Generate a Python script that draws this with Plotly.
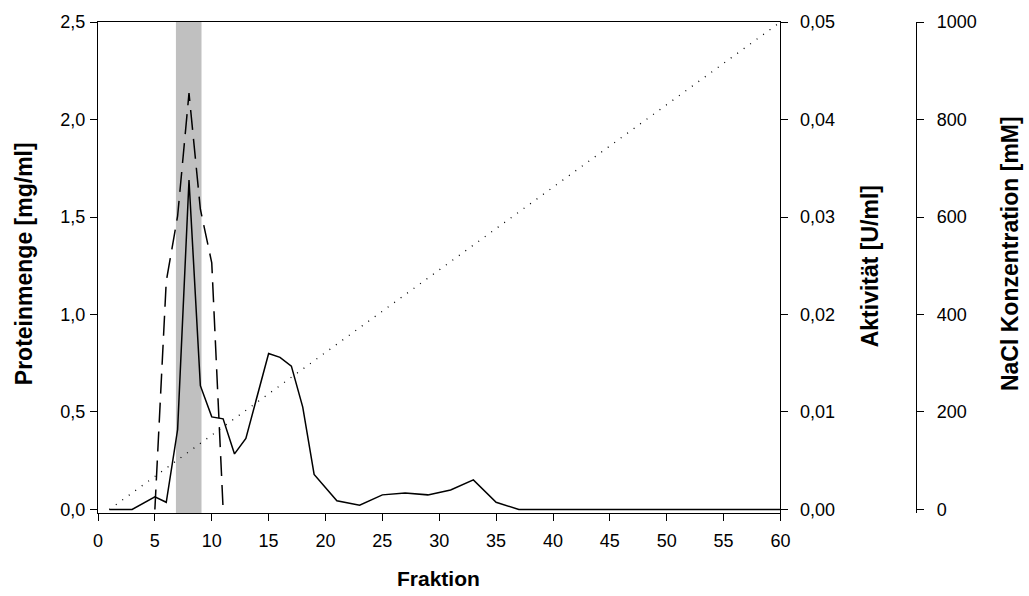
import plotly.graph_objects as go

# Protein content of the eluted fractions [mg/ml]
protein_fraction = [1, 3, 5, 6, 7, 8, 9, 10, 11, 12, 13, 15, 16, 17, 18, 19,
                    21, 23, 25, 27, 29, 31, 33, 35, 37, 40, 45, 50, 55, 60]
protein_mg_ml = [0.0, 0.0, 0.065, 0.037, 0.41, 1.69, 0.635, 0.475, 0.465, 0.285,
                 0.365, 0.80, 0.78, 0.735, 0.525, 0.18, 0.045, 0.022, 0.075,
                 0.085, 0.075, 0.10, 0.152, 0.037, 0.0, 0.0, 0.0, 0.0, 0.0, 0.0]

# Enzyme activity [U/ml]
activity_fraction = [5, 6, 7, 8, 9, 10, 11]
activity_u_ml = [0.0, 0.0234, 0.0301, 0.0427, 0.0308, 0.0253, 0.0]

# NaCl gradient [mM]
nacl_fraction = [1, 60]
nacl_mM = [0, 1000]

# Pooled fractions
pool_start, pool_end = 6.85, 9.1

# Tick labels (German decimal comma)
x_ticks = list(range(0, 61, 5))
protein_ticks = [0.0, 0.5, 1.0, 1.5, 2.0, 2.5]
protein_tick_text = ["0,0", "0,5", "1,0", "1,5", "2,0", "2,5"]
activity_ticks = [0.0, 0.01, 0.02, 0.03, 0.04, 0.05]
activity_tick_text = ["0,00", "0,01", "0,02", "0,03", "0,04", "0,05"]
nacl_ticks = [0, 200, 400, 600, 800, 1000]
nacl_tick_text = ["0", "200", "400", "600", "800", "1000"]

W, H = 1029, 596
ML, MR, MT, MB = 98, 20, 20, 83
PW = W - ML - MR
PH = H - MT - MB


def px_x(px):
    return (px - ML) / PW


def px_y(py):
    return (H - MB - py) / PH


FONT = "Liberation Sans, Arial, sans-serif"
TICK_FONT = dict(family=FONT, size=18, color="black")

fig = go.Figure()

fig.add_trace(go.Scatter(
    x=protein_fraction, y=protein_mg_ml, mode="lines",
    line=dict(color="black", width=1.5), yaxis="y", showlegend=False))

fig.add_trace(go.Scatter(
    x=activity_fraction, y=activity_u_ml, mode="lines",
    line=dict(color="black", width=1.5, dash="20px,9px"), yaxis="y2",
    showlegend=False))

fig.add_trace(go.Scatter(
    x=nacl_fraction, y=nacl_mM, mode="lines",
    line=dict(color="black", width=1.3, dash="1px,7px"), yaxis="y3",
    showlegend=False))

fig.add_shape(type="rect", xref="x", yref="paper",
              x0=pool_start, x1=pool_end, y0=0, y1=1,
              fillcolor="#c0c0c0", line=dict(width=0), layer="below")

axis_common = dict(showgrid=False, zeroline=False, showline=True,
                   linecolor="black", linewidth=1, ticks="outside",
                   ticklen=7, tickwidth=1, tickcolor="black",
                   tickfont=TICK_FONT)

fig.update_layout(
    width=W, height=H,
    margin=dict(l=ML, r=MR, t=MT, b=MB),
    paper_bgcolor="white", plot_bgcolor="white",
    xaxis=dict(domain=[0, px_x(782)], range=[0, 60], tickvals=x_ticks,
               mirror=True, ticklabelstandoff=4, **axis_common),
    yaxis=dict(range=[-0.018, 2.5], tickvals=protein_ticks,
               ticktext=protein_tick_text, ticklabelstandoff=1,
               **axis_common),
    yaxis2=dict(range=[-0.00036, 0.05], tickvals=activity_ticks,
                ticktext=activity_tick_text, overlaying="y", side="right",
                anchor="x", ticklabelstandoff=8, **axis_common),
    yaxis3=dict(range=[-7.2, 1000], tickvals=nacl_ticks,
                ticktext=nacl_tick_text, overlaying="y", side="right",
                anchor="free", position=px_x(918), ticklabelstandoff=9,
                **axis_common),
)

V_TITLE_FONT = dict(family=FONT, size=23, color="black")
H_TITLE_FONT = dict(family=FONT, size=21, color="black")
titles = [
    ("<b>Proteinmenge [mg/ml]</b>", px_x(24), px_y(263), -90, V_TITLE_FONT),
    ("<b>Aktivität [U/ml]</b>", px_x(872), px_y(265), -90, V_TITLE_FONT),
    ("<b>NaCl Konzentration [mM]</b>", px_x(1012), px_y(252), -90, V_TITLE_FONT),
    ("<b>Fraktion</b>", px_x(439), px_y(579), 0, H_TITLE_FONT),
]
for text, x, y, angle, font in titles:
    fig.add_annotation(text=text, x=x, y=y, xref="paper", yref="paper",
                       xanchor="center", yanchor="middle", textangle=angle,
                       showarrow=False, font=font)

fig.write_html("out.html")
